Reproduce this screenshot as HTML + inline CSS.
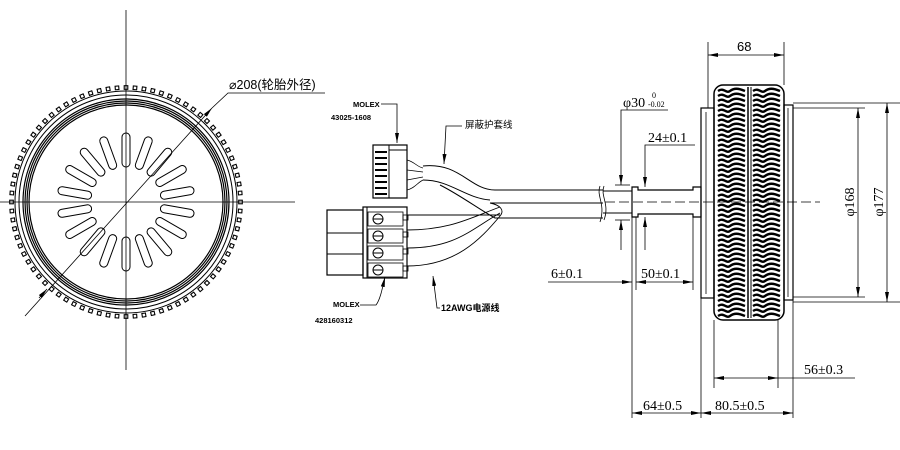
<!DOCTYPE html>
<html><head><meta charset="utf-8"><style>
html,body{margin:0;padding:0;background:#fff;width:900px;height:450px;overflow:hidden}
svg{display:block}
text{font-family:"Liberation Serif","Noto Serif CJK SC",serif;fill:#000}
.s{font-family:"Liberation Sans","Noto Sans CJK SC",sans-serif}
.b{font-weight:bold}
</style></head><body>
<svg id="d" width="900" height="450" viewBox="0 0 900 450" xmlns="http://www.w3.org/2000/svg" stroke="#000" fill="none" stroke-width="1">
<defs>
<marker id="a" viewBox="0 0 10 4" refX="10" refY="2" markerWidth="10" markerHeight="4" orient="auto-start-reverse" markerUnits="userSpaceOnUse"><path d="M0,0L10,2L0,4z" fill="#000" stroke="none"/></marker>
</defs>
<g id="lw">
<line x1="126" y1="10" x2="126" y2="370" stroke-width="0.8"/>
<line x1="0" y1="202" x2="295" y2="202" stroke-width="0.8"/>
<circle cx="126" cy="202" r="111" stroke-width="1"/>
<circle cx="126" cy="202" r="107" stroke-width="1"/>
<circle cx="126" cy="202" r="103" stroke-width="1.2"/>
<circle cx="126" cy="202" r="101" stroke-width="1.2"/>
<circle cx="126" cy="202" r="99" stroke-width="1.2"/>
<circle cx="126" cy="202" r="97" stroke-width="1.2"/>
<line x1="25" y1="316" x2="212" y2="108" stroke-width="0.8" marker-end="url(#a)"/>
<line x1="39" y1="298" x2="47" y2="289" stroke-width="0.8" marker-end="url(#a)"/>
<polyline points="212,108 228,93 325,93" stroke-width="0.8"/>
<text x="229" y="89" font-size="12.5" class="s" stroke="none">⌀208(轮胎外径)</text>
</g>
<g stroke-width="1">
<text x="353" y="107" font-size="7.5" class="s b" stroke="none">MOLEX</text>
<text x="331" y="120" font-size="7.5" class="s b" stroke="none">43025-1608</text>
<polyline points="381,104 397,104 397,143" stroke-width="0.8" marker-end="url(#a)"/>
<rect x="373" y="145" width="34" height="53" stroke-width="1.2"/>
<line x1="389" y1="145" x2="389" y2="198"/>
<line x1="389" y1="150" x2="407" y2="150"/>
<g id="pins"></g>
<path d="M407,160 C415,162 417,167 423,168 M407,190 C415,188 417,183 423,180 M407,170 L423,172 M407,180 L423,177" stroke-width="0.7"/>
<path d="M423,166 C460,162 470,190 495,190 L603,190 M423,180 C450,180 465,198 490,200 M440,185 C460,195 480,210 495,218 L603,218 M490,203 L603,203"/>
<text x="465" y="128" font-size="9.5" class="s" stroke="none">屏蔽护套线</text>
<polyline points="462,126 446,126 444,164" stroke-width="0.8" marker-end="url(#a)"/>
<path d="M600,186 C596,196 606,204 600,222" stroke-width="0.8"/>
<rect x="327" y="210" width="36" height="65" stroke-width="1.2"/>
<line x1="327" y1="233" x2="363" y2="233"/><line x1="327" y1="254" x2="363" y2="254"/>
<rect x="363" y="207" width="44" height="71" stroke-width="1.2"/>
<line x1="367" y1="207" x2="367" y2="278"/>
<g id="slots"></g>
<path d="M407,215 L500,215 M407,230 C450,230 470,218 500,207 M407,248 C455,248 470,230 500,213 M407,266 C455,266 480,240 500,216 M490,203 C500,205 505,210 500,216" stroke-width="0.9"/>
<text x="333" y="307" font-size="7.5" class="s b" stroke="none">MOLEX</text>
<text x="315" y="323" font-size="7.5" class="s b" stroke="none">428160312</text>
<path d="M360,305 L376,305 C380,300 382,290 385,277" stroke-width="0.8" marker-end="url(#a)"/>
<text x="441" y="311" font-size="9" class="s b" stroke="none">12AWG电源线</text>
<polyline points="440,308 437,308 433,276" stroke-width="0.8" marker-end="url(#a)"/>
</g>
<g>
<line x1="603" y1="191" x2="632" y2="191"/><line x1="603" y1="213" x2="632" y2="213"/>
<path d="M604,186 C600,196 610,204 604,220" stroke-width="0.8"/>
<line x1="615" y1="185" x2="630" y2="185" stroke-width="0.8"/><line x1="615" y1="220" x2="630" y2="220" stroke-width="0.8"/>
<path d="M632,187 L638,187 L638,190 L693,190 L693,187 L701,187 L701,217 L693,217 L693,214 L638,214 L638,217 L632,217 Z" stroke-width="1.2"/>
<line x1="605" y1="202" x2="820" y2="202" stroke-width="0.8" stroke-dasharray="10,4"/>
<rect x="701" y="108" width="13" height="190" stroke-width="1.2"/>
<line x1="706" y1="112" x2="706" y2="294" stroke-width="0.8"/>
<rect x="784" y="105" width="9" height="195" stroke-width="1.2"/>
<line x1="788" y1="108" x2="788" y2="297" stroke-width="0.8"/>
<rect x="714" y="85" width="70" height="235" rx="9" stroke-width="1.5"/>
<line x1="748" y1="87" x2="748" y2="318" stroke-width="1.5"/>
<line x1="751" y1="87" x2="751" y2="318" stroke-width="1"/>
<g id="tread" stroke-width="2.4"></g>
<g stroke-width="0.8">
<line x1="708" y1="42" x2="708" y2="108"/><line x1="784" y1="42" x2="784" y2="85"/>
<line x1="708" y1="55" x2="784" y2="55" marker-start="url(#a)" marker-end="url(#a)"/>
<line x1="793" y1="103" x2="900" y2="103"/><line x1="793" y1="302" x2="900" y2="302"/>
<line x1="793" y1="108" x2="865" y2="108"/><line x1="793" y1="297" x2="865" y2="297"/>
<line x1="858" y1="108" x2="858" y2="297" marker-start="url(#a)" marker-end="url(#a)"/>
<line x1="887" y1="103" x2="887" y2="302" marker-start="url(#a)" marker-end="url(#a)"/>
<polyline points="668,110 621,110 621,185" marker-end="url(#a)"/>
<line x1="621" y1="250" x2="621" y2="220" marker-end="url(#a)"/>
<polyline points="695,145 645,145 645,187" marker-end="url(#a)"/>
<line x1="645" y1="250" x2="645" y2="217" marker-end="url(#a)"/>
<line x1="548" y1="282" x2="632" y2="282" marker-end="url(#a)"/>
<line x1="636" y1="282" x2="693" y2="282" marker-start="url(#a)" marker-end="url(#a)"/>
<line x1="632" y1="217" x2="632" y2="418"/><line x1="636" y1="217" x2="636" y2="290"/>
<line x1="693" y1="217" x2="693" y2="290"/><line x1="701" y1="217" x2="701" y2="418"/>
<line x1="714" y1="320" x2="714" y2="388"/><line x1="778" y1="320" x2="778" y2="388"/>
<line x1="793" y1="300" x2="793" y2="418"/>
<line x1="714" y1="378" x2="778" y2="378" marker-start="url(#a)" marker-end="url(#a)"/>
<line x1="778" y1="378" x2="855" y2="378"/>
<line x1="632" y1="413" x2="701" y2="413" marker-start="url(#a)" marker-end="url(#a)"/>
<line x1="701" y1="413" x2="793" y2="413" marker-start="url(#a)" marker-end="url(#a)"/>
</g>
<g stroke="none">
<text x="737" y="51" font-size="13" class="s">68</text>
<text x="623" y="107" font-size="14">φ30</text>
<text x="652" y="98" font-size="8">0</text>
<text x="648" y="107" font-size="8">-0.02</text>
<text x="648" y="142" font-size="14">24±0.1</text>
<text x="551" y="278" font-size="14">6±0.1</text>
<text x="641" y="278" font-size="14">50±0.1</text>
<text x="804" y="374" font-size="14">56±0.3</text>
<text x="643" y="410" font-size="14">64±0.5</text>
<text x="715" y="410" font-size="14">80.5±0.5</text>
<text transform="translate(854,202) rotate(-90)" font-size="14" text-anchor="middle">φ168</text>
<text transform="translate(883,202) rotate(-90)" font-size="14" text-anchor="middle">φ177</text>
</g>
</g>
</svg>
<script>
var NS="http://www.w3.org/2000/svg";
function el(p,t,a){var e=document.createElementNS(NS,t);for(var k in a)e.setAttribute(k,a[k]);p.appendChild(e);return e;}
var lw=document.getElementById('lw');
var cx=126,cy=202;
for(var i=0;i<80;i++){var an=i*2*Math.PI/80;var x=cx+114.5*Math.cos(an),y=cy+114.5*Math.sin(an);
el(lw,'rect',{x:x-1.8,y:y-1.8,width:3.6,height:3.6,transform:'rotate('+(an*180/Math.PI)+' '+x+' '+y+')','stroke-width':'1.1'});}
for(var i=0;i<18;i++){var an=(i*20-90)*Math.PI/180;var x=cx+52*Math.cos(an),y=cy+52*Math.sin(an);
el(lw,'rect',{x:x-17,y:y-4,width:34,height:8,rx:4,transform:'rotate('+(i*20-90)+' '+x+' '+y+')','stroke-width':'1'});}
var pins=document.getElementById('pins');
for(var i=0;i<8;i++){el(pins,'line',{x1:375,y1:152+i*6,x2:387,y2:152+i*6,'stroke-width':'2'});}
var sl=document.getElementById('slots');
for(var i=0;i<4;i++){var y=212+i*17;el(sl,'rect',{x:368,y:y,width:35,height:14,'stroke-width':'0.8'});
el(sl,'circle',{cx:378,cy:y+7,r:5,'stroke-width':'1'});el(sl,'line',{x1:373,y1:y+7,x2:383,y2:y+7,'stroke-width':'1'});
el(sl,'rect',{x:403,y:y+3,width:5,height:5,'stroke-width':'0.8'});}
var tr=document.getElementById('tread');
for(var y=91;y<317;y+=5){
el(tr,'path',{d:'M718,'+y+' c6,-4 8,3 12,0 s8,-3 15,0'});
el(tr,'path',{d:'M753,'+y+' c6,-4 8,3 12,0 s8,-3 15,0'});}
</script>
</body></html>
